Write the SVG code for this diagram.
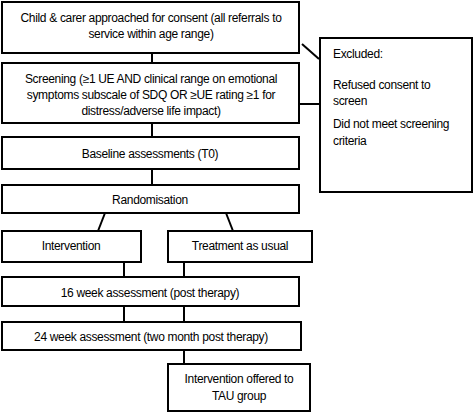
<svg xmlns="http://www.w3.org/2000/svg" width="473" height="413" viewBox="0 0 473 413">
<style>
.box{fill:#fff;stroke:#000;stroke-width:2}
.ln{stroke:#000;stroke-width:2;fill:none}
text{font-family:"Liberation Sans",Arial,sans-serif;font-size:12px;letter-spacing:-0.33px;fill:#000}
.c{text-anchor:middle}
</style>
<rect width="473" height="413" fill="#fff"/>
<g id="connectors">
<line class="ln" x1="152" y1="53" x2="152" y2="63"/>
<line class="ln" x1="152" y1="123" x2="152" y2="137"/>
<line class="ln" x1="152" y1="169" x2="152" y2="185"/>
<line class="ln" x1="302" y1="44" x2="319" y2="59"/>
<line class="ln" x1="300" y1="104" x2="320" y2="104"/>
<line class="ln" x1="105" y1="213" x2="98" y2="231"/>
<line class="ln" x1="226" y1="213" x2="233" y2="231"/>
<line class="ln" x1="124" y1="262" x2="124" y2="277"/>
<line class="ln" x1="184" y1="262" x2="184" y2="277"/>
<line class="ln" x1="124" y1="306" x2="124" y2="322"/>
<line class="ln" x1="184" y1="306" x2="184" y2="322"/>
<line class="ln" x1="184" y1="350" x2="184" y2="364"/>
</g>
<g id="consent">
<rect class="box" x="2" y="2" width="297" height="51"/>
<text class="c" x="151" y="22">Child &amp; carer approached for consent (all referrals to</text>
<text class="c" x="151" y="38">service within age range)</text>
</g>
<g id="screening">
<rect class="box" x="2" y="63" width="297" height="60"/>
<text class="c" x="151" y="83">Screening (≥1 UE AND clinical range on emotional</text>
<text class="c" x="151" y="99">symptoms subscale of SDQ OR ≥UE rating ≥1 for</text>
<text class="c" x="151" y="115">distress/adverse life impact)</text>
</g>
<g id="excluded">
<rect class="box" x="320" y="38" width="152" height="154"/>
<text x="333" y="58">Excluded:</text>
<text x="333" y="89">Refused consent to</text>
<text x="333" y="105">screen</text>
<text x="333" y="128">Did not meet screening</text>
<text x="333" y="145">criteria</text>
</g>
<g id="baseline">
<rect class="box" x="2" y="137" width="297" height="32"/>
<text class="c" x="150" y="158">Baseline assessments (T0)</text>
</g>
<g id="randomisation">
<rect class="box" x="2" y="185" width="297" height="28"/>
<text class="c" x="150" y="204">Randomisation</text>
</g>
<g id="intervention">
<rect class="box" x="2" y="231" width="139" height="31"/>
<text class="c" x="71" y="250">Intervention</text>
</g>
<g id="tau">
<rect class="box" x="168" y="231" width="144" height="31"/>
<text class="c" x="240" y="250">Treatment as usual</text>
</g>
<g id="week16">
<rect class="box" x="2" y="277" width="297" height="29"/>
<text class="c" x="150" y="297">16 week assessment (post therapy)</text>
</g>
<g id="week24">
<rect class="box" x="2" y="322" width="299" height="28"/>
<text class="c" x="151" y="341">24 week assessment (two month post therapy)</text>
</g>
<g id="offered">
<rect class="box" x="168" y="364" width="142" height="47"/>
<text class="c" x="239" y="383">Intervention offered to</text>
<text class="c" x="239" y="400">TAU group</text>
</g>
</svg>
